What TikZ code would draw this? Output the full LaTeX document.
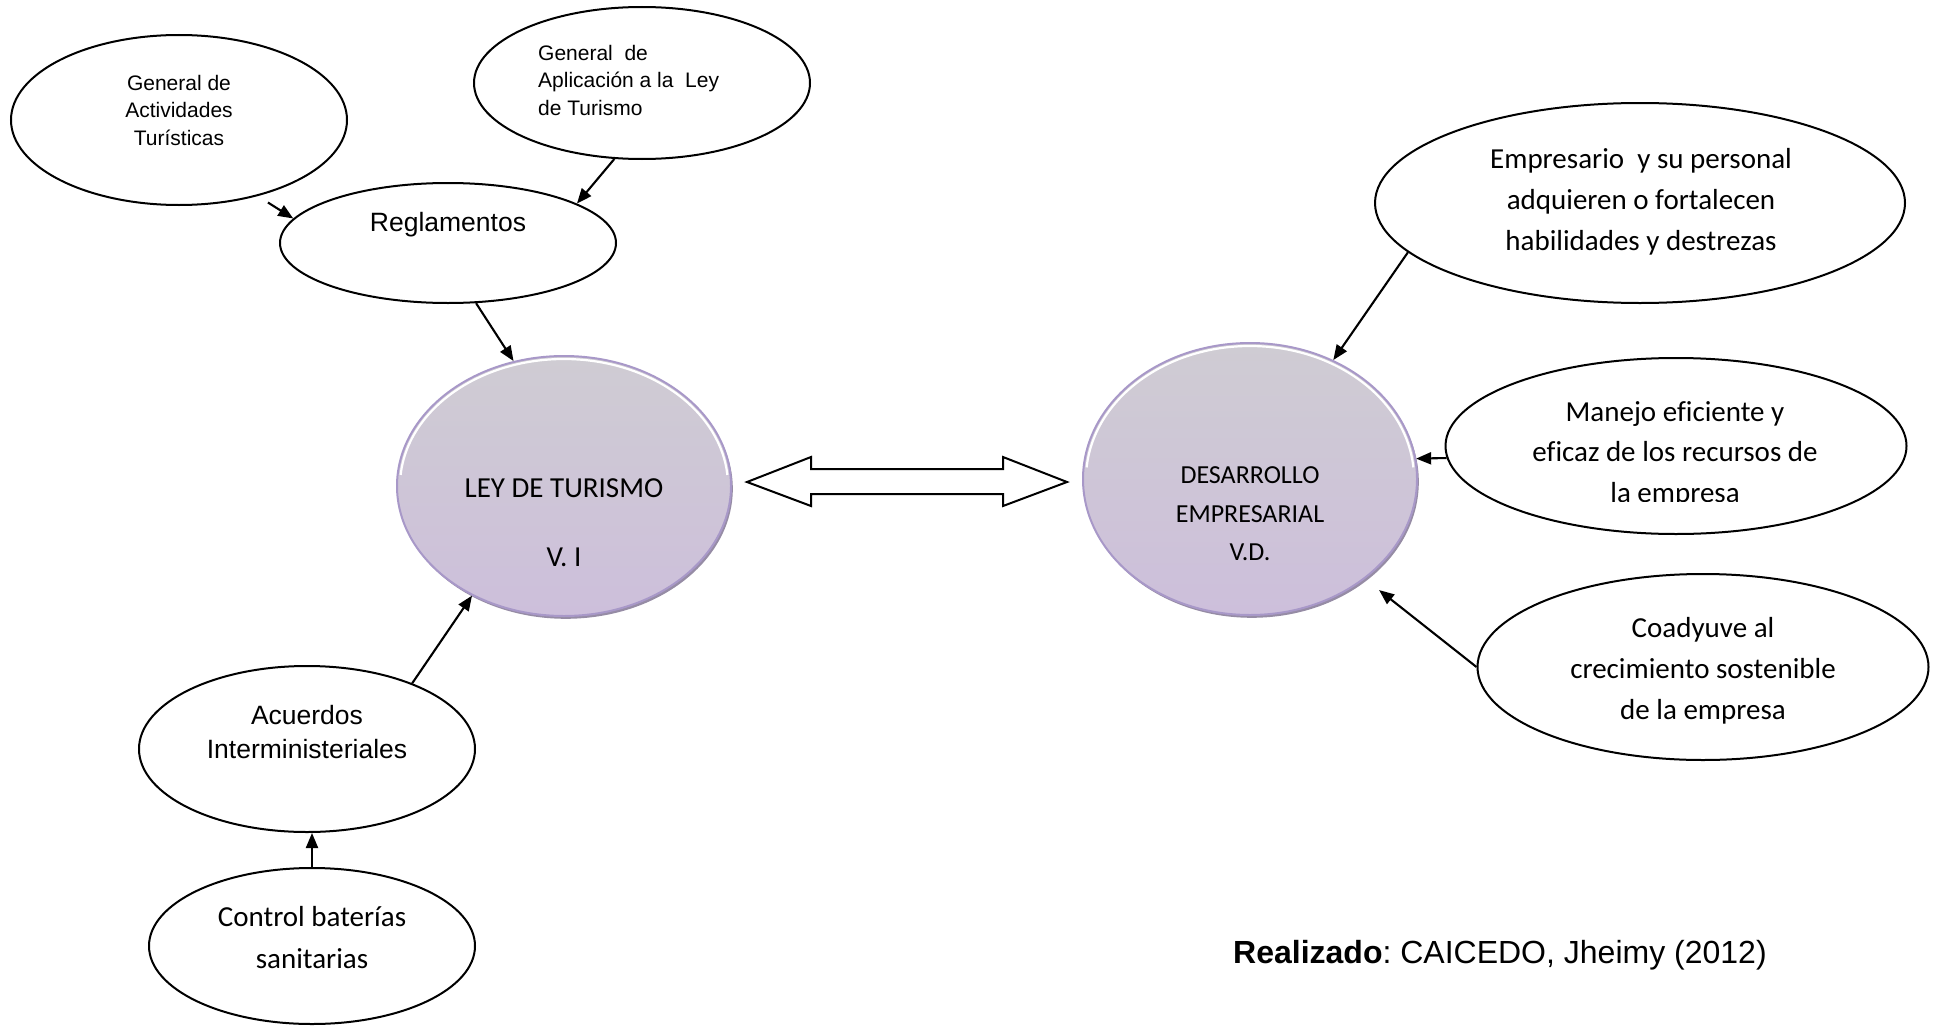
\documentclass[tikz,border=0pt]{standalone}
\usepackage{fontspec}
\usetikzlibrary{shapes.geometric,arrows.meta,shadows}
\newfontfamily\arialf{Liberation Sans}
\newfontfamily\calibf[Ligatures=NoCommon]{Carlito}
\frenchspacing
\definecolor{circtop}{RGB}{207,204,211}
\definecolor{circbot}{RGB}{205,191,219}
\definecolor{circedge}{RGB}{168,152,200}
\definecolor{circshadow}{RGB}{150,140,165}
\tikzset{
  bub/.style={ellipse, draw=black, line width=2pt, fill=white, inner sep=0pt},
  bigc/.style={ellipse, draw=circedge, line width=2pt, inner sep=0pt,
    top color=circtop, bottom color=circbot,
    drop shadow={shadow xshift=1.8pt, shadow yshift=-2.8pt, fill=circshadow, opacity=1}},
  hilite/.style={white, line width=2.2pt},
  conn/.style={line width=2.1pt, -{Triangle[length=15pt,width=12pt]}},
  atxt/.style={font=\arialf, align=center, inner sep=0pt},
  ctxt/.style={font=\calibf, align=center, inner sep=0pt},
}
\begin{document}
\begin{tikzpicture}[x=1pt,y=-1pt]
\useasboundingbox[fill=white] (0,0) rectangle (1940,1025);

% bubbles
\node[bub, minimum width=336pt, minimum height=170pt] (act) at (179,120) {};
\node[bub, minimum width=336pt, minimum height=152pt] (apl) at (642,83) {};
\node[bub, minimum width=336pt, minimum height=120pt] (regl) at (448,243) {};
\node[bub, minimum width=336pt, minimum height=166pt] (acu) at (307,749) {};
\node[bub, minimum width=326pt, minimum height=156pt] (ctrl) at (312,946) {};
\node[bub, minimum width=530pt, minimum height=200pt] (emp) at (1640,203) {};
\node[bub, minimum width=461pt, minimum height=176pt] (man) at (1676,446) {};
\node[bub, minimum width=451pt, minimum height=186pt] (coa) at (1703,667) {};

% central circles
\node[bigc, minimum width=334pt, minimum height=260pt] (ley) at (564,486) {};
\node[bigc, minimum width=334pt, minimum height=272pt] (des) at (1250,479) {};
\draw[hilite] ([shift={(185:164 and 127)}]ley.center) arc[start angle=185, end angle=355, x radius=164, y radius=127];
\draw[hilite] ([shift={(185:164 and 133)}]des.center) arc[start angle=185, end angle=355, x radius=164, y radius=133];

% texts
\node[atxt, font=\arialf\fontsize{21}{27.5}\selectfont] (tact) at (179,110) {General de\\Actividades\\Turísticas};
\node[atxt, align=left, anchor=west, font=\arialf\fontsize{21}{27.5}\selectfont] (tapl) at (538,80) {General\ \ de\\Aplicación a la\ \ Ley\\de Turismo};
\node[atxt, font=\arialf\fontsize{26.5}{34}\selectfont] (tregl) at (448,225) {Reglamentos};
\node[atxt, font=\arialf\fontsize{26.5}{34}\selectfont] (tacu) at (307,732) {Acuerdos\\Interministeriales};
\node[ctxt, font=\calibf\fontsize{29}{42}\selectfont] (tctrl) at (312,938) {Control baterías\\sanitarias};
\node[ctxt, font=\calibf\fontsize{29}{69}\selectfont] (tley) at (564,523) {LEY DE TURISMO\\V. I};
\node[ctxt, font=\calibf\fontsize{26}{38.5}\selectfont] (tdes) at (1250,514) {DESARROLLO\\EMPRESARIAL\\V.D.};
\node[ctxt, font=\calibf\fontsize{29}{41}\selectfont] (temp) at (1641,202) {Empresario\ \ y su personal\\adquieren o fortalecen\\habilidades y destrezas};
\begin{scope}
\clip (1400,300) rectangle (1940,501);
\node[ctxt, font=\calibf\fontsize{29}{40.5}\selectfont] (tman) at (1675,454) {Manejo eficiente y\\eficaz de los recursos de\\la empresa};
\end{scope}
\node[ctxt, font=\calibf\fontsize{29}{41}\selectfont] (tcoa) at (1703,671) {Coadyuve al\\crecimiento sostenible\\de la empresa};
\node[atxt, anchor=west, font=\arialf\fontsize{32}{38}\selectfont] (treal) at (1233,955) {\textbf{Realizado}: CAICEDO, Jheimy (2012)};

% connectors
\draw[conn, shorten <=12pt] (act.-44) -- (regl.171);
\draw[conn] (apl.-110) -- (regl.17);
\draw[conn] (regl.-65) -- (ley.112);
\draw[conn] (acu.32) -- (ley.230);
\draw[conn] (ctrl.north) -- (ctrl.north |- acu.south);
\draw[conn] (emp.192) -- (des.55);
\draw[conn] (man.183) -- (des.7);
\draw[conn, shorten >=18pt] (coa.west) -- (des.-41);

% double block arrow
\draw[line width=2pt, fill=white, line join=miter]
  (747,482) -- (811,457) -- (811,469) -- (1003,469) -- (1003,457) -- (1067,482)
  -- (1003,506) -- (1003,494) -- (811,494) -- (811,506) -- cycle;
\end{tikzpicture}
\end{document}
